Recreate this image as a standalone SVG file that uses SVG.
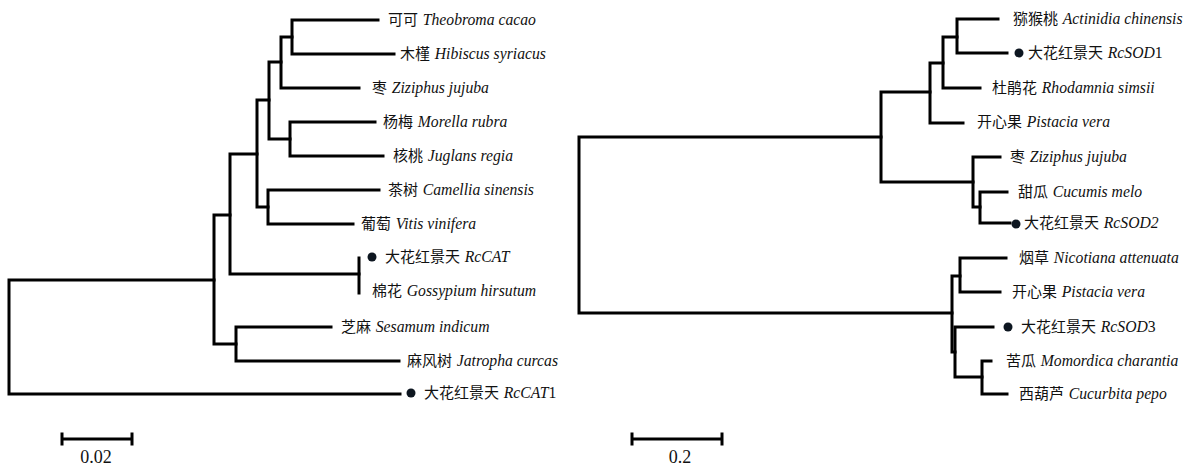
<svg xmlns="http://www.w3.org/2000/svg" width="1197" height="466" viewBox="0 0 1197 466">
<style>
.br{fill:none;stroke:#000;stroke-width:3;stroke-linecap:square;stroke-linejoin:miter}
.lb{font-family:"Liberation Serif","Noto Sans CJK SC",serif;font-size:15px;fill:#111}
.it{font-style:italic;font-size:15.7px}
.dot{fill:#0d1620}
.sc{font-family:"Liberation Serif",serif;font-size:18px;fill:#111;text-anchor:middle}
</style>
<rect width="1197" height="466" fill="#fff"/>
<g id="connectors">
<path class="br" d="M400,394 H9 V280 H214"/>
<path class="br" d="M230,215 H214 V344 H236"/>
<path class="br" d="M257,154 H230 V274 H359"/>
<path class="br" d="M359,258 V293"/>
<path class="br" d="M331,327 H236 V361 H399"/>
<path class="br" d="M269,100 H257 V207 H268"/>
<path class="br" d="M379,190 H268 V224 H353"/>
<path class="br" d="M281,62 H269 V139 H290"/>
<path class="br" d="M292,37 H281 V88 H359"/>
<path class="br" d="M378,20 H292 V54 H394"/>
<path class="br" d="M375,122 H290 V156 H383"/>
<path class="br" d="M881,137 H579 V313 H952"/>
<path class="br" d="M930,92 H881 V182 H973"/>
<path class="br" d="M943,63 H930 V123 H963"/>
<path class="br" d="M957,37 H943 V88 H980"/>
<path class="br" d="M998,19 H957 V53 H1007"/>
<path class="br" d="M1000,157 H973 V207 H980"/>
<path class="br" d="M1007,192 H980 V223 H1010"/>
<path class="br" d="M960,276 H952 V352 H955"/>
<path class="br" d="M1006,258 H960 V292 H1000"/>
<path class="br" d="M993,327 H955 V377 H982"/>
<path class="br" d="M991,361 H982 V394 H1007"/>
</g>
<g id="scale-left">
<path class="br" d="M62,439 H132 M62,434 V444 M132,434 V444"/>
<text class="sc" x="96" y="463">0.02</text>
</g>
<g id="scale-right">
<path class="br" d="M632,439 H722 M632,434 V444 M722,434 V444"/>
<text class="sc" x="680" y="463">0.2</text>
</g>
<g id="L-theobroma"><text class="lb" x="388" y="25">可可 <tspan class="it" dx="1">Theobroma cacao</tspan></text></g>
<g id="L-hibiscus"><text class="lb" x="400" y="59">木槿 <tspan class="it" dx="1">Hibiscus syriacus</tspan></text></g>
<g id="L-ziziphus"><text class="lb" x="372" y="93">枣 <tspan class="it" dx="1">Ziziphus jujuba</tspan></text></g>
<g id="L-morella"><text class="lb" x="383" y="127">杨梅 <tspan class="it" dx="1">Morella rubra</tspan></text></g>
<g id="L-juglans"><text class="lb" x="393" y="161">核桃 <tspan class="it" dx="1">Juglans regia</tspan></text></g>
<g id="L-camellia"><text class="lb" x="388" y="195">茶树 <tspan class="it" dx="1">Camellia  sinensis</tspan></text></g>
<g id="L-vitis"><text class="lb" x="361" y="229">葡萄 <tspan class="it" dx="1">Vitis vinifera</tspan></text></g>
<g id="L-rccat"><circle class="dot" cx="372" cy="257" r="4.5"/><text class="lb" x="385" y="262">大花红景天 <tspan class="it" dx="1">RcCAT</tspan></text></g>
<g id="L-gossypium"><text class="lb" x="372" y="296">棉花 <tspan class="it" dx="1">Gossypium hirsutum</tspan></text></g>
<g id="L-sesamum"><text class="lb" x="341" y="332">芝麻 <tspan class="it" dx="1">Sesamum indicum</tspan></text></g>
<g id="L-jatropha"><text class="lb" x="407" y="366">麻风树 <tspan class="it" dx="1">Jatropha curcas</tspan></text></g>
<g id="L-rccat1"><circle class="dot" cx="411" cy="393" r="4.5"/><text class="lb" x="424" y="398">大花红景天 <tspan class="it" dx="1">RcCAT</tspan><tspan font-size="15.7">1</tspan></text></g>
<g id="R-actinidia"><text class="lb" x="1013" y="24">猕猴桃 <tspan class="it" dx="1">Actinidia chinensis</tspan></text></g>
<g id="R-rcsod1"><circle class="dot" cx="1019" cy="53" r="4.5"/><text class="lb" x="1028" y="58">大花红景天 <tspan class="it" dx="1">RcSOD</tspan><tspan font-size="15.7">1</tspan></text></g>
<g id="R-rhodamnia"><text class="lb" x="992" y="93">杜鹃花 <tspan class="it" dx="1">Rhodamnia simsii</tspan></text></g>
<g id="R-pistacia1"><text class="lb" x="977" y="127">开心果 <tspan class="it" dx="1">Pistacia vera</tspan></text></g>
<g id="R-ziziphus"><text class="lb" x="1010" y="162">枣 <tspan class="it" dx="1">Ziziphus jujuba</tspan></text></g>
<g id="R-cucumis"><text class="lb" x="1018" y="197">甜瓜 <tspan class="it" dx="1">Cucumis melo</tspan></text></g>
<g id="R-rcsod2"><circle class="dot" cx="1016" cy="224" r="4.5"/><text class="lb" x="1024" y="228">大花红景天 <tspan class="it" dx="1">RcSOD2</tspan></text></g>
<g id="R-nicotiana"><text class="lb" x="1019" y="263">烟草 <tspan class="it" dx="1">Nicotiana attenuata</tspan></text></g>
<g id="R-pistacia2"><text class="lb" x="1012" y="297">开心果 <tspan class="it" dx="1">Pistacia vera</tspan></text></g>
<g id="R-rcsod3"><circle class="dot" cx="1008" cy="327" r="4.5"/><text class="lb" x="1021" y="332">大花红景天 <tspan class="it" dx="1">RcSOD</tspan><tspan font-size="15.7">3</tspan></text></g>
<g id="R-momordica"><text class="lb" x="1006" y="366">苦瓜 <tspan class="it" dx="1">Momordica charantia</tspan></text></g>
<g id="R-cucurbita"><text class="lb" x="1019" y="399">西葫芦 <tspan class="it" dx="1">Cucurbita pepo</tspan></text></g>
</svg>
